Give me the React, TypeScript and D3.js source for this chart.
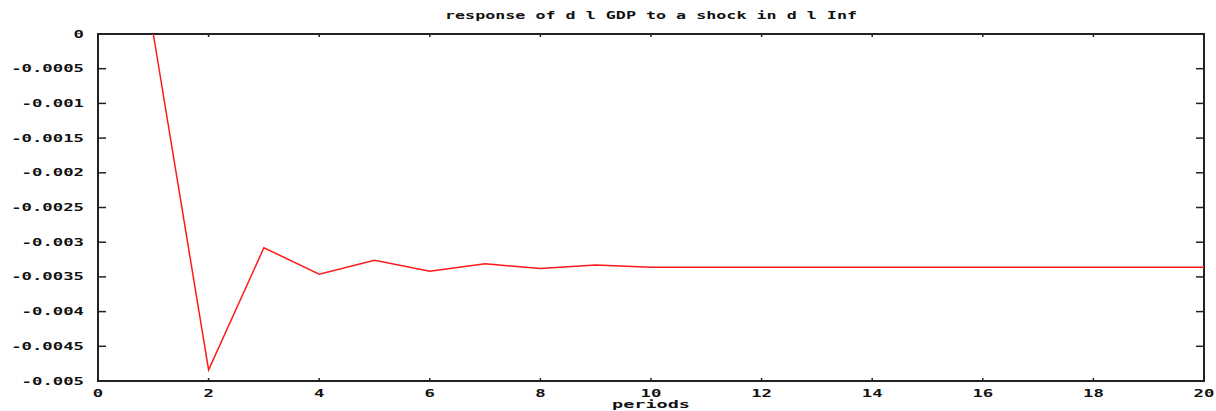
import React from "react";
import * as d3 from "d3";

const periods = [1, 2, 3, 4, 5, 6, 7, 8, 9, 10, 11, 12, 13, 14, 15, 16, 17, 18, 19, 20];
const response = [0, -0.00484, -0.00308, -0.00346, -0.00326, -0.00342, -0.00331, -0.00338, -0.00333, -0.00336,
  -0.00336, -0.00336, -0.00336, -0.00336, -0.00336, -0.00336, -0.00336, -0.00336, -0.00336, -0.00336];
const yTicks = [0, -0.0005, -0.001, -0.0015, -0.002, -0.0025, -0.003, -0.0035, -0.004, -0.0045, -0.005];
const yTickLabels = ["0", "-0.0005", "-0.001", "-0.0015", "-0.002", "-0.0025", "-0.003", "-0.0035", "-0.004", "-0.0045", "-0.005"];
const xTicks = [0, 2, 4, 6, 8, 10, 12, 14, 16, 18, 20];
const title = "response of d l GDP to a shock in d l Inf";
const xLabel = "periods";

const W = 1216, H = 411;
const left = 98, right = 1204, top = 34, bottom = 381;
const font = "'DejaVu Sans Mono', monospace";
const charW = 10.4;

export default function App() {
  const x = d3.scaleLinear().domain([0, 20]).range([left, right]);
  const y = d3.scaleLinear().domain([-0.005, 0]).range([bottom, top]);
  const line = d3.line<number>().x((_, i) => x(periods[i])).y((d) => y(d));
  const axisColor = "#222";
  return (
    <svg width={W} height={H} style={{ position: "absolute", left: 0, top: 0, background: "#fff" }}>
      <rect x={0} y={0} width={W} height={H} fill="#fff" />
      <text x={(left + right) / 2} y={19} textAnchor="middle" fontFamily={font} fontWeight="bold" fontSize={10}
        textLength={412} lengthAdjust="spacingAndGlyphs" fill="#111">
        {title}
      </text>
      {yTicks.map((t, i) => (
        <g key={"y" + i}>
          <line x1={left} x2={left + 8} y1={y(t)} y2={y(t)} stroke={axisColor} strokeWidth={1.5} />
          <line x1={right} x2={right - 8} y1={y(t)} y2={y(t)} stroke={axisColor} strokeWidth={1.5} />
          <text x={84} y={y(t) + 3.5} textAnchor="end" fontFamily={font} fontWeight="bold" fontSize={10}
            textLength={yTickLabels[i].length * charW} lengthAdjust="spacingAndGlyphs" fill="#111">
            {yTickLabels[i]}
          </text>
        </g>
      ))}
      {xTicks.map((t) => (
        <g key={"x" + t}>
          <line x1={x(t)} x2={x(t)} y1={bottom} y2={bottom - 3} stroke={axisColor} strokeWidth={1.5} />
          <line x1={x(t)} x2={x(t)} y1={top} y2={top + 3} stroke={axisColor} strokeWidth={1.5} />
          <text x={x(t)} y={397} textAnchor="middle" fontFamily={font} fontWeight="bold" fontSize={10}
            textLength={String(t).length * charW} lengthAdjust="spacingAndGlyphs" fill="#111">
            {t}
          </text>
        </g>
      ))}
      <rect x={left} y={top} width={right - left} height={bottom - top} fill="none" stroke={axisColor} strokeWidth={2} />
      <path d={line(response) || ""} fill="none" stroke="#ff1a1a" strokeWidth={1.5} />
      <text x={(left + right) / 2} y={408} textAnchor="middle" fontFamily={font} fontWeight="bold" fontSize={10}
        textLength={78} lengthAdjust="spacingAndGlyphs" fill="#111">
        {xLabel}
      </text>
    </svg>
  );
}
